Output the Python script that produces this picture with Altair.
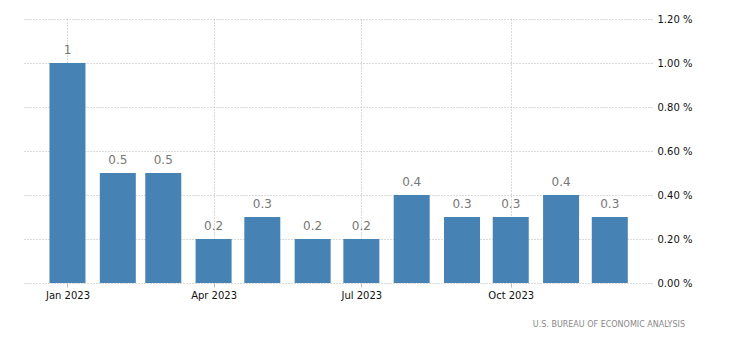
import altair as alt
import pandas as pd

months = ["2023-01-01", "2023-02-01", "2023-03-01", "2023-04-01", "2023-05-01", "2023-06-01",
          "2023-07-01", "2023-08-01", "2023-09-01", "2023-10-01", "2023-11-01", "2023-12-01"]
values = [1.0, 0.5, 0.5, 0.2, 0.3, 0.2, 0.2, 0.4, 0.3, 0.3, 0.4, 0.3]
labels = ["1", "0.5", "0.5", "0.2", "0.3", "0.2", "0.2", "0.4", "0.3", "0.3", "0.4", "0.3"]
tick_dates = ["2023-01-01", "2023-04-01", "2023-07-01", "2023-10-01"]
y_ticks = [0, 0.2, 0.4, 0.6, 0.8, 1.0, 1.2]
source = "U.S. BUREAU OF ECONOMIC ANALYSIS"

df = pd.DataFrame({"date": pd.to_datetime(months), "value": values, "label": labels})

x_scale = alt.Scale(domain=[alt.DateTime(year=2022, month=12, date=4),
                            alt.DateTime(year=2023, month=12, date=27)],
                    nice=False, padding=0)
y_scale = alt.Scale(domain=[0, 1.2], nice=False)

x_enc = alt.X(
    "date:T",
    scale=x_scale,
    axis=alt.Axis(
        values=[alt.DateTime(year=2023, month=int(d[5:7]), date=1) for d in tick_dates],
        format="%b %Y", title=None, labelFontSize=10, labelColor="#111",
        labelFont="DejaVu Sans", tickColor="#bbb", tickSize=4, domain=False,
        grid=True, gridColor="#b4b4b4", gridDash=[1, 2], labelPadding=3,
    ),
)
y_enc = alt.Y(
    "value:Q",
    scale=y_scale,
    axis=alt.Axis(
        orient="right", values=y_ticks, title=None,
        labelExpr="format(datum.value, '.2f') + ' %'",
        labelFontSize=10, labelColor="#111", labelFont="DejaVu Sans",
        ticks=False, domain=False, grid=True, gridColor="#b4b4b4",
        gridDash=[1, 2], labelPadding=5,
    ),
)

bars = alt.Chart(df).mark_bar(size=36, color="#4682B4").encode(x=x_enc, y=y_enc)
texts = alt.Chart(df).mark_text(
    baseline="bottom", dy=-6, fontSize=12, color="#777", font="DejaVu Sans"
).encode(x="date:T", y="value:Q", text="label:N")

src = alt.Chart(pd.DataFrame({"t": [source]})).mark_text(
    fontSize=8, color="#888", font="DejaVu Sans", align="right"
).encode(x=alt.value(663), y=alt.value(306), text="t:N")

chart = alt.layer(bars, texts, src).properties(
    width=630, height=264,
    autosize=alt.AutoSizeParams(type="none"),
    padding={"left": 22, "top": 19, "right": 78, "bottom": 68},
).configure_view(stroke=None)

chart.save("out.html", embed_options={"renderer": "svg", "actions": False})
